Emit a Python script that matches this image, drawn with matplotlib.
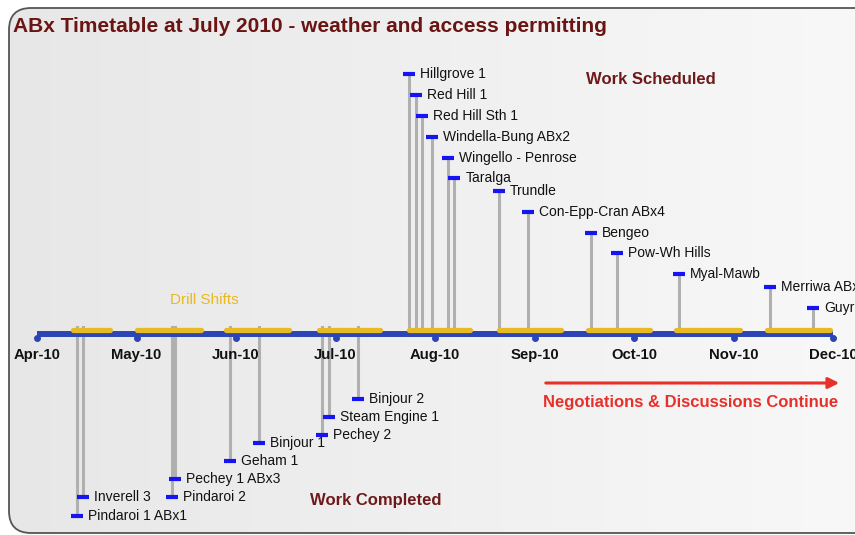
import numpy as np
import matplotlib
matplotlib.use('Agg')
import matplotlib.pyplot as plt
from matplotlib.patches import FancyBboxPatch, FancyArrowPatch

plt.rcParams['font.family'] = ['Liberation Sans', 'DejaVu Sans']

# --- data -------------------------------------------------------------
months = ['Apr-10', 'May-10', 'Jun-10', 'Jul-10', 'Aug-10',
          'Sep-10', 'Oct-10', 'Nov-10', 'Dec-10']

# work scheduled (above the line)
sched_names = ['Hillgrove 1', 'Red Hill 1', 'Red Hill Sth 1', 'Windella-Bung ABx2',
               'Wingello - Penrose', 'Taralga', 'Trundle', 'Con-Epp-Cran ABx4',
               'Bengeo', 'Pow-Wh Hills', 'Myal-Mawb', 'Merriwa ABx3', 'Guyra']
sched_dates = ['2010-07-24', '2010-07-26', '2010-07-28', '2010-07-31',
               '2010-08-05', '2010-08-07', '2010-08-21', '2010-08-30',
               '2010-09-18', '2010-09-26', '2010-10-15', '2010-11-12', '2010-11-25']

# work completed (below the line)
done_names = ['Pindaroi 1 ABx1', 'Inverell 3', 'Pindaroi 2', 'Pechey 1 ABx3',
              'Geham 1', 'Binjour 1', 'Pechey 2', 'Steam Engine 1', 'Binjour 2']
done_dates = ['2010-04-13', '2010-04-15', '2010-05-12', '2010-05-13',
              '2010-05-30', '2010-06-08', '2010-06-27', '2010-06-29', '2010-07-08']

# drill shifts
shift_start = ['2010-04-12', '2010-05-01', '2010-05-29', '2010-06-26', '2010-07-24',
               '2010-08-21', '2010-09-17', '2010-10-14', '2010-11-11']
shift_end = ['2010-04-23', '2010-05-21', '2010-06-17', '2010-07-15', '2010-08-12',
             '2010-09-09', '2010-10-06', '2010-11-03', '2010-11-30']

# label rows (layout, in pixels from top)
sched_rows = [74, 95, 116, 137, 158, 178, 191, 212, 233, 253, 274, 287, 308]
done_rows = [516, 497, 497, 479, 461, 443, 435, 417, 399]

ndays = {4: 30, 5: 31, 6: 30, 7: 31, 8: 31, 9: 30, 10: 31, 11: 30, 12: 31}


def to_month(s):
    y, m, d = map(int, s.split('-'))
    return (m - 4) + (d - 1) / ndays[m]


W, H = 855, 535
fig = plt.figure(figsize=(W / 100, H / 100), dpi=100)

# background panel with soft gradient
bg = fig.add_axes([0, 0, 1, 1])
bg.set_xlim(0, W)
bg.set_ylim(H, 0)
bg.axis('off')
grad = np.linspace(0, 1, 256)[None, :]
im = bg.imshow(grad, extent=(0, W, H, 0), cmap=matplotlib.colors.LinearSegmentedColormap.from_list(
    'g', ['#e7e7e7', '#f8f8f8']), aspect='auto')
box = FancyBboxPatch((9, 8), 880, 525, boxstyle='round,pad=0,rounding_size=22',
                     facecolor='none', edgecolor='#555555', linewidth=1.3)
bg.add_patch(box)
im.set_clip_path(box)

ax = fig.add_axes([0, 0, 1, 1])
ax.patch.set_alpha(0)
ax.set_xlim(-37 / 99.5, 818 / 99.5)
ax.set_ylim(H, 0)
ax.axis('off')

axis_y = 334
blue = '#2b45b5'
gold = '#e8b923'
mk = '#1414f5'
grey = '#b0b0b0'

# main time line and month ticks
mx = np.arange(len(months))
ax.plot([mx[0], mx[-1]], [axis_y, axis_y], color=blue, lw=4.3, solid_capstyle='butt', zorder=3)
ax.plot(mx, [axis_y + 3.5] * len(mx), 'o', color=blue, ms=4, zorder=3)
for x, lab in zip(mx, months):
    ax.text(x, 355, lab, ha='center', va='center', fontsize=10.7, fontweight='bold', color='#111111')

# drill shifts
for s, e in zip(shift_start, shift_end):
    ax.plot([to_month(s), to_month(e)], [axis_y - 4.5, axis_y - 4.5], color=gold, lw=3.8,
            solid_capstyle='round', zorder=4)

# scheduled events
for name, d, r in zip(sched_names, sched_dates, sched_rows):
    x = to_month(d)
    ax.plot([x, x], [r, axis_y - 3], color=grey, lw=2.2, zorder=2)
    ax.plot(x, r, marker='_', ms=8, mew=3, color=mk, zorder=5)
    ax.annotate(name, (x, r), xytext=(11, 0), textcoords='offset pixels',
                va='center', ha='left', fontsize=10, color='#111111')

# completed events
for name, d, r in zip(done_names, done_dates, done_rows):
    x = to_month(d)
    ax.plot([x, x], [axis_y - 7, r], color=grey, lw=2.2, zorder=2)
    ax.plot(x, r, marker='_', ms=8, mew=3, color=mk, zorder=5)
    ax.annotate(name, (x, r), xytext=(11, 0), textcoords='offset pixels',
                va='center', ha='left', fontsize=10, color='#111111')

# titles and notes
fig.text(13 / W, 1 - 27 / H, 'ABx Timetable at July 2010 - weather and access permitting',
         ha='left', va='center', fontsize=15, fontweight='bold', color='#6b1414')
fig.text(651 / W, 1 - 79 / H, 'Work Scheduled', ha='center', va='center',
         fontsize=12, fontweight='bold', color='#6e1a1a')
fig.text(376 / W, 1 - 500 / H, 'Work Completed', ha='center', va='center',
         fontsize=12, fontweight='bold', color='#6e1a1a')
fig.text(204 / W, 1 - 300 / H, 'Drill Shifts', ha='center', va='center',
         fontsize=11, color=gold)

arrow = FancyArrowPatch((543 / W, 1 - 383 / H), (842 / W, 1 - 383 / H),
                        transform=fig.transFigure, arrowstyle='-|>', mutation_scale=16,
                        color='#e8302a', lw=2.2)
fig.add_artist(arrow)
fig.text(691 / W, 1 - 402 / H, 'Negotiations & Discussions Continue', ha='center', va='center',
         fontsize=12, fontweight='bold', color='#e8302a')

fig.savefig('out.png', dpi=100)
